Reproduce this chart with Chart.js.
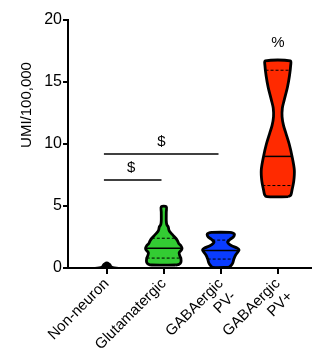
<!DOCTYPE html>
<html>
<head>
<meta charset="utf-8">
<script src="https://cdn.jsdelivr.net/npm/chart.js@4.4.0/dist/chart.umd.min.js"></script>
<style>
html, body { margin: 0; padding: 0; background: #fff; }
#wrap { width: 312px; height: 354px; }
</style>
</head>
<body>
<div id="wrap"><canvas id="myChart"></canvas></div>
<script>
// categories on the x axis (positions 1..4)
var categories = ['Non-neuron', 'Glutamatergic', ['GABAergic', 'PV-'], ['GABAergic', 'PV+']];
var yTicks = [0, 5, 10, 15, 20];
var yTitle = 'UMI/100,000';

// violin outlines: level (UMI/100,000) and half width (in category units)
var nonLevels = [0.0, 0.04, 0.08, 0.15, 0.25, 0.35, 0.45];
var nonWidths = [0.32, 0.17, 0.11, 0.08, 0.07, 0.05, 0.02];

var glutLevels = [0.24, 0.3, 0.45, 0.78, 1.0, 1.24, 1.45, 1.6, 1.8, 2.0, 2.2, 2.4, 2.65, 2.93, 3.1, 3.3, 3.5, 3.8, 4.5, 4.94];
var glutWidths = [0.21, 0.27, 0.30, 0.30, 0.28, 0.27, 0.31, 0.32, 0.30, 0.26, 0.24, 0.21, 0.16, 0.105, 0.088, 0.079, 0.053, 0.044, 0.044, 0.044];

var pvNegLevels = [0.05, 0.2, 0.4, 0.72, 1.05, 1.3, 1.45, 1.6, 1.8, 2.0, 2.12, 2.3, 2.5, 2.7, 2.8, 2.87];
var pvNegWidths = [0.14, 0.18, 0.21, 0.23, 0.26, 0.30, 0.32, 0.29, 0.19, 0.13, 0.12, 0.16, 0.22, 0.24, 0.22, 0.16];

var pvPosLevels = [5.75, 5.9, 6.3, 7.0, 7.9, 9.0, 10.0, 10.9, 11.5, 12.2, 12.9, 13.5, 14.6, 15.5, 16.3, 16.7];
var pvPosWidths = [0.19, 0.23, 0.25, 0.28, 0.29, 0.25, 0.20, 0.14, 0.10, 0.075, 0.08, 0.11, 0.17, 0.205, 0.225, 0.22];

// median and quartiles (null = not drawn) with the violin half width there
var medians = [null, 1.6, 1.42, 9.0];
var medianWidths = [null, 0.32, 0.31, 0.25];
var q1 = [null, 0.8, 0.72, 6.65];
var q1Widths = [null, 0.30, 0.23, 0.27];
var q3 = [null, 2.4, 2.25, 15.95];
var q3Widths = [null, 0.21, 0.15, 0.215];

// significance brackets and markers
var bracketFrom = [0.95, 0.95];
var bracketTo = [2.96, 1.96];
var bracketY = [9.19, 7.1];
var markText = ['$', '$', '%'];
var markX = [1.96, 1.43, 4.0];
var markY = [10.2, 8.05, 18.15];

var fills = ['#000000', '#33cc33', '#0a3cff', '#ff2a00'];
var font = '"Liberation Sans", Arial, sans-serif';

function violin(center, levels, widths) {
    var right = levels.map(function (y, i) { return {x: center + widths[i], y: y}; });
    var left = levels.map(function (y, i) { return {x: center - widths[i], y: y}; }).reverse();
    var pts = right.concat(left);
    pts.push(pts[0]);
    return pts;
}

function hline(center, y, w) {
    return [{x: center - w, y: y}, {x: center + w, y: y}];
}

var shapes = [[nonLevels, nonWidths], [glutLevels, glutWidths], [pvNegLevels, pvNegWidths], [pvPosLevels, pvPosWidths]];
var datasets = [];

shapes.forEach(function (s, i) {
    datasets.push({
        data: violin(i + 1, s[0], s[1]),
        showLine: true,
        fill: 'shape',
        backgroundColor: fills[i],
        borderColor: '#000',
        borderWidth: i === 0 ? 1.5 : 2.8,
        borderJoinStyle: 'round',
        tension: 0.3,
        pointRadius: 0,
        order: 2
    });
});

for (var i = 0; i < categories.length; i++) {
    if (medians[i] !== null) {
        datasets.push({data: hline(i + 1, medians[i], medianWidths[i]), showLine: true, borderColor: '#000', borderWidth: 1.5, pointRadius: 0, order: 1});
        datasets.push({data: hline(i + 1, q1[i], q1Widths[i]), showLine: true, borderColor: '#000', borderWidth: 1, borderDash: [3, 2], pointRadius: 0, order: 1});
        datasets.push({data: hline(i + 1, q3[i], q3Widths[i]), showLine: true, borderColor: '#000', borderWidth: 1, borderDash: [3, 2], pointRadius: 0, order: 1});
    }
}

bracketY.forEach(function (y, i) {
    datasets.push({data: [{x: bracketFrom[i], y: y}, {x: bracketTo[i], y: y}], showLine: true, borderColor: '#000', borderWidth: 1.5, pointRadius: 0, order: 1});
});

var textPlugin = {
    id: 'annotText',
    afterDatasetsDraw: function (chart) {
        var ctx = chart.ctx;
        var xs = chart.scales.x, ys = chart.scales.y;
        ctx.save();
        ctx.font = '15px ' + font;
        ctx.fillStyle = '#000';
        ctx.textAlign = 'center';
        ctx.textBaseline = 'middle';
        markText.forEach(function (t, i) {
            ctx.fillText(t, xs.getPixelForValue(markX[i]), ys.getPixelForValue(markY[i]));
        });
        ctx.translate(27, 105);
        ctx.rotate(-Math.PI / 2);
        ctx.fillText(yTitle, 0, 0);
        ctx.restore();
    }
};

Chart.defaults.font.family = font;
Chart.defaults.color = '#000';

var ctx = document.getElementById('myChart').getContext('2d');
new Chart(ctx, {
    type: 'scatter',
    data: {datasets: datasets},
    plugins: [textPlugin],
    options: {
        responsive: true,
        maintainAspectRatio: false,
        animation: false,
        layout: {padding: {top: 20, right: 0, bottom: 0, left: 0}},
        plugins: {legend: {display: false}, tooltip: {enabled: false}},
        scales: {
            x: {
                type: 'linear',
                min: 0.32,
                max: 4.6,
                afterBuildTicks: function (scale) {
                    scale.ticks = categories.map(function (c, i) { return {value: i + 1}; });
                },
                afterFit: function (scale) { scale.height = 86; },
                ticks: {
                    autoSkip: false,
                    minRotation: 45,
                    maxRotation: 45,
                    padding: 1,
                    font: {size: 15},
                    callback: function (v) { return categories[v - 1]; }
                },
                grid: {drawOnChartArea: false, drawTicks: true, tickLength: 6, color: '#000', lineWidth: 2},
                border: {color: '#000', width: 2}
            },
            y: {
                min: 0,
                max: 20,
                afterBuildTicks: function (scale) {
                    scale.ticks = yTicks.map(function (v) { return {value: v}; });
                },
                afterFit: function (scale) { scale.width = 68; },
                ticks: {padding: 1, font: {size: 16}},
                grid: {drawOnChartArea: false, drawTicks: true, tickLength: 5, color: '#000', lineWidth: 2},
                border: {color: '#000', width: 2}
            }
        }
    }
});
</script>
</body>
</html>
